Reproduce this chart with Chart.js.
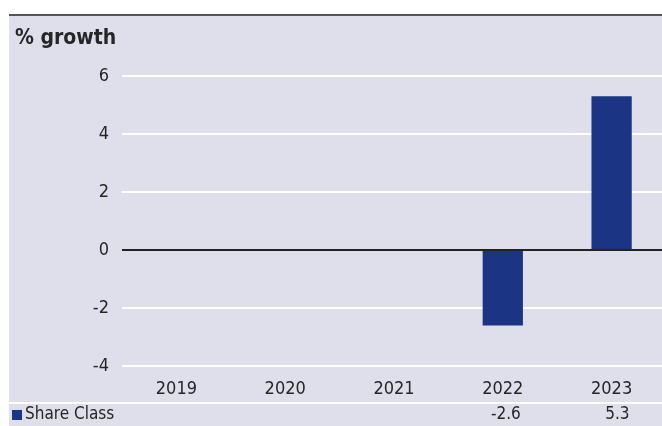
<!DOCTYPE html>
<html>
<head>
<meta charset="utf-8">
<script src="https://cdn.jsdelivr.net/npm/chart.js@4/dist/chart.umd.min.js"></script>
<style>
  html, body { margin: 0; padding: 0; background: #fff; overflow: hidden; }
  canvas { display: block; }
</style>
</head>
<body>
<canvas id="growthChart" width="666" height="426"></canvas>
<script>
// ----------------------
// DATA
// ----------------------
const years = ["2019", "2020", "2021", "2022", "2023"];
const shareClass = [null, null, null, -2.6, 5.3];
const seriesName = "Share Class";
const titleText = "% growth";

const BG = "#dfdfec";
const BAR = "#1b3584";
const TEXT = "#262626";
const FONT = "'DejaVu Sans Condensed', 'DejaVu Sans', sans-serif";

// ----------------------
// FRAME + TITLE + TABLE
// ----------------------
const framePlugin = {
  id: "frame",
  beforeDraw(chart) {
    const ctx = chart.ctx;
    ctx.save();
    ctx.fillStyle = "#fff";
    ctx.fillRect(0, 0, chart.width, chart.height);
    ctx.fillStyle = BG;
    ctx.fillRect(9, 16, chart.width - 9, chart.height - 16);
    ctx.fillStyle = "#555";
    ctx.fillRect(9, 14, chart.width - 9, 2);

    ctx.fillStyle = TEXT;
    ctx.font = "bold 21px " + FONT;
    ctx.textBaseline = "middle";
    ctx.textAlign = "left";
    ctx.fillText(titleText, 15, 39);
    ctx.restore();
  },
  afterDraw(chart) {
    const ctx = chart.ctx;
    const x = chart.scales.x;
    ctx.save();
    // separator above the table row
    ctx.fillStyle = "#fff";
    ctx.fillRect(9, 402, chart.width - 9, 2);

    // legend key + series name
    ctx.fillStyle = BAR;
    ctx.fillRect(12, 410, 10, 10);
    ctx.fillStyle = TEXT;
    ctx.font = "17px " + FONT;
    ctx.textBaseline = "middle";
    ctx.textAlign = "left";
    ctx.fillText(seriesName, 25, 415);

    ctx.textAlign = "right";
    shareClass.forEach((v, i) => {
      if (v === null) return;
      ctx.fillText(v.toFixed(1), x.getPixelForValue(i) + 18, 415);
    });
    ctx.restore();
  }
};

// ----------------------
// CHART
// ----------------------
const chart = new Chart(document.getElementById("growthChart").getContext("2d"), {
  type: "bar",
  data: {
    labels: years,
    datasets: [{
      label: seriesName,
      data: shareClass,
      backgroundColor: BAR,
      categoryPercentage: 1,
      barPercentage: 0.37
    }]
  },
  options: {
    responsive: false,
    animation: false,
    layout: { padding: { top: 76, left: 0, right: 0, bottom: 0 } },
    plugins: {
      legend: { display: false },
      tooltip: { enabled: false }
    },
    scales: {
      x: {
        grid: { display: false, drawTicks: false },
        border: { display: false },
        ticks: { color: TEXT, font: { family: FONT, size: 18 }, padding: 13 },
        afterFit(scale) { scale.height = 60; }
      },
      y: {
        min: -4,
        max: 6,
        ticks: { stepSize: 2, color: TEXT, font: { family: FONT, size: 18 }, padding: 13 },
        grid: {
          drawTicks: false,
          lineWidth: 2,
          color: (c) => (c.tick && c.tick.value === 0 ? "#222" : "#fff")
        },
        border: { display: false },
        afterFit(scale) { scale.width = 122; }
      }
    }
  },
  plugins: [framePlugin]
});
</script>
</body>
</html>
